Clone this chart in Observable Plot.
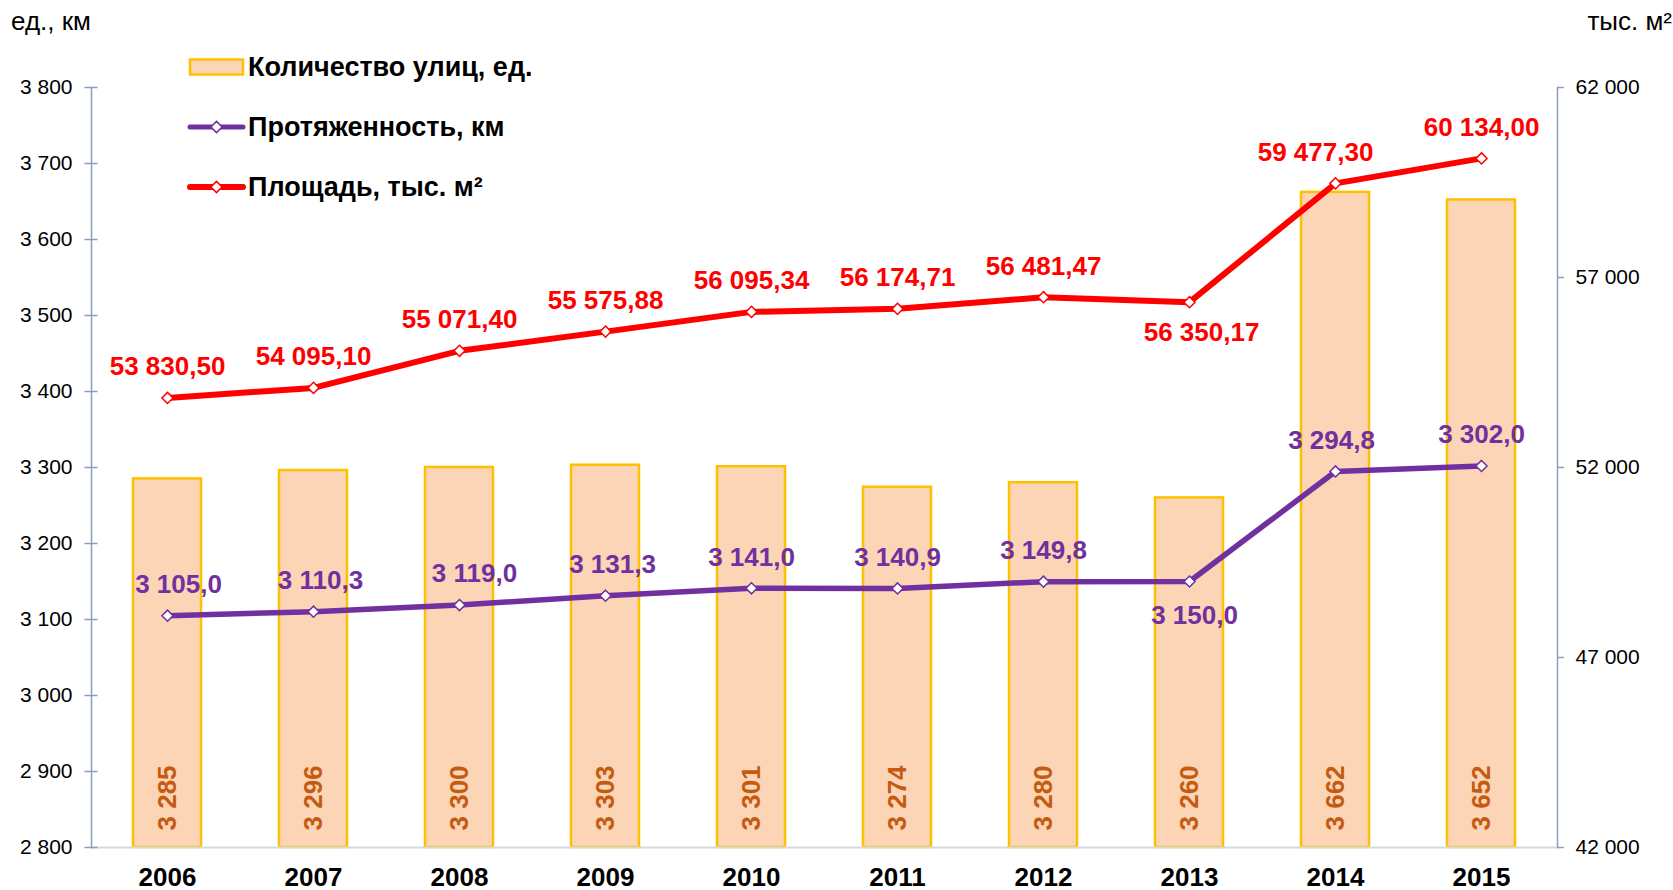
<!DOCTYPE html>
<html><head><meta charset="utf-8">
<script src="https://cdn.jsdelivr.net/npm/d3@7"></script>
<script src="https://cdn.jsdelivr.net/npm/@observablehq/plot@0.6"></script>
<style>
body{margin:0;background:#fff;}
#wrap{position:relative;width:1673px;height:890px;font-family:"Liberation Sans",Arial,sans-serif;}
#wrap svg.ov{position:absolute;left:0;top:0;pointer-events:none;}
#wrap > figure, #wrap > svg.plot{position:absolute;left:0;top:0;margin:0;}
</style></head><body><div id="wrap"></div>
<script>
// ---- data ----
const years = ["2006","2007","2008","2009","2010","2011","2012","2013","2014","2015"];
const streetCount = [3285, 3296, 3300, 3303, 3301, 3274, 3280, 3260, 3662, 3652];
const lengthKm = [3105.0, 3110.3, 3119.0, 3131.3, 3141.0, 3140.9, 3149.8, 3150.0, 3294.8, 3302.0];
const areaThs = [53830.50, 54095.10, 55071.40, 55575.88, 56095.34, 56174.71, 56481.47, 56350.17, 59477.30, 60134.00];
const leftTicks = [2800, 2900, 3000, 3100, 3200, 3300, 3400, 3500, 3600, 3700, 3800];
const rightTicks = [42000, 47000, 52000, 57000, 62000];
const seriesNames = ["Количество улиц, ед.", "Протяженность, км", "Площадь, тыс. м²"];
const leftTitle = "ед., км";
const rightTitle = "тыс. м²";

// ---- styling ----
const font = '"Liberation Sans", Arial, sans-serif';
const cBarFill = "#fbd5b5", cBarStroke = "#ffc000", cBarText = "#c55a11";
const cLen = "#7030a0", cArea = "#ff0000", cAxis = "#8c9dbf";
// label placement tweaks (below the point / small horizontal nudges)
const lenBelow = new Set(["2013"]), areaBelow = new Set(["2013"]);
const lenNudge = {"2006": 11, "2007": 7, "2008": 15, "2009": 7, "2013": 5, "2014": -4};
const areaNudge = {"2013": 12, "2014": -20};

const loc = d3.formatLocale({decimal: ",", thousands: "\u00a0", grouping: [3], currency: ["", ""]});
const fInt = loc.format(",d"), f1 = loc.format(",.1f"), f2 = loc.format(",.2f");

const L0 = leftTicks[0], L1 = leftTicks[leftTicks.length - 1];
const R0 = rightTicks[0], R1 = rightTicks[rightTicks.length - 1];
const toLeft = v => L0 + (v - R0) * (L1 - L0) / (R1 - R0);
const fromLeft = v => R0 + (v - L0) * (R1 - R0) / (L1 - L0);

const data = years.map((year, i) => ({year, count: streetCount[i], len: lengthKm[i], area: areaThs[i], areaL: toLeft(areaThs[i])}));

const labelStyle = {fontWeight: "bold", fontSize: 26};
const areaLabels = data.map(d => Plot.text([d], {x: "year", y: "areaL", text: d => f2(d.area),
  dy: areaBelow.has(d.year) ? 30 : -31, dx: areaNudge[d.year] || 0, fill: cArea, ...labelStyle}));
const lenLabels = data.map(d => Plot.text([d], {x: "year", y: "len", text: d => f1(d.len),
  dy: lenBelow.has(d.year) ? 34 : -31, dx: lenNudge[d.year] || 0, fill: cLen, ...labelStyle}));

const chart = Plot.plot({
  width: 1673, height: 890,
  marginLeft: 91, marginRight: 116, marginTop: 87, marginBottom: 43,
  style: {fontFamily: font, fontSize: "21px", color: "#000", background: "transparent", overflow: "visible"},
  x: {type: "band", domain: years, paddingInner: 0.536, paddingOuter: 0.26, label: null},
  y: {domain: [L0, L1], label: null},
  marks: [
    Plot.barY(data, {x: "year", y1: () => L0, y2: "count", fill: cBarFill, stroke: cBarStroke, strokeWidth: 2.5}),
    Plot.text(data, {x: "year", y: () => L0, text: d => fInt(d.count), rotate: -90, textAnchor: "start", lineAnchor: "middle", dy: -17, fill: cBarText, ...labelStyle}),
    Plot.frame({anchor: "bottom", stroke: "#d9d9d9", strokeWidth: 2}),
    Plot.frame({anchor: "left", stroke: cAxis, strokeWidth: 1.5}),
    Plot.frame({anchor: "right", stroke: cAxis, strokeWidth: 1.5}),
    Plot.axisY({ticks: leftTicks, tickSize: 0, tickPadding: 19, tickFormat: fInt, fontSize: 21}),
    Plot.axisY({ticks: leftTicks, tickSize: 13, dx: 6.5, tickFormat: () => "", stroke: cAxis, strokeWidth: 1.5}),
    Plot.axisY({anchor: "right", ticks: rightTicks.map(toLeft), tickSize: 6, tickPadding: 12, stroke: cAxis, strokeWidth: 1.5,
      tickFormat: v => fInt(Math.round(fromLeft(v))), fontSize: 21}),
    Plot.axisX({tickSize: 0, tickPadding: 20, fontWeight: "bold", fontSize: 26}),
    Plot.line(data, {x: "year", y: "areaL", stroke: cArea, strokeWidth: 6, strokeLinejoin: "round"}),
    Plot.dot(data, {x: "year", y: "areaL", symbol: "diamond2", r: 5, fill: "white", stroke: cArea, strokeWidth: 1.5}),
    Plot.line(data, {x: "year", y: "len", stroke: cLen, strokeWidth: 5.5, strokeLinejoin: "round"}),
    Plot.dot(data, {x: "year", y: "len", symbol: "diamond2", r: 5, fill: "white", stroke: cLen, strokeWidth: 1.5}),
    ...areaLabels,
    ...lenLabels
  ]
});
const wrap = document.getElementById("wrap");
wrap.appendChild(chart);

// ---- overlay: axis titles and legend ----
const ov = d3.select(wrap).append("svg").attr("class", "ov").attr("width", 1673).attr("height", 890)
  .style("font-family", font);
ov.append("text").attr("x", 11).attr("y", 30).attr("font-size", 26).text(leftTitle);
ov.append("text").attr("x", 1672).attr("y", 30).attr("font-size", 26).attr("text-anchor", "end").text(rightTitle);

const lg = ov.append("g");
const rowY = [67, 127, 187];
lg.append("rect").attr("x", 190).attr("y", rowY[0] - 7.5).attr("width", 53).attr("height", 15)
  .attr("fill", cBarFill).attr("stroke", cBarStroke).attr("stroke-width", 2.5);
[[cLen, rowY[1]], [cArea, rowY[2]]].forEach(([c, y], i) => {
  lg.append("line").attr("x1", 190).attr("x2", 243).attr("y1", y).attr("y2", y)
    .attr("stroke", c).attr("stroke-width", i === 0 ? 5 : 6).attr("stroke-linecap", "round");
  const s = 5.6;
  lg.append("path").attr("d", `M${216.5},${y - s}L${216.5 + s},${y}L${216.5},${y + s}L${216.5 - s},${y}Z`)
    .attr("fill", "white").attr("stroke", c).attr("stroke-width", 1.5);
});
seriesNames.forEach((n, i) => {
  lg.append("text").attr("x", 248).attr("y", rowY[i]).attr("dy", "0.35em")
    .attr("font-size", 27).attr("font-weight", "bold").text(n);
});
</script></body></html>
